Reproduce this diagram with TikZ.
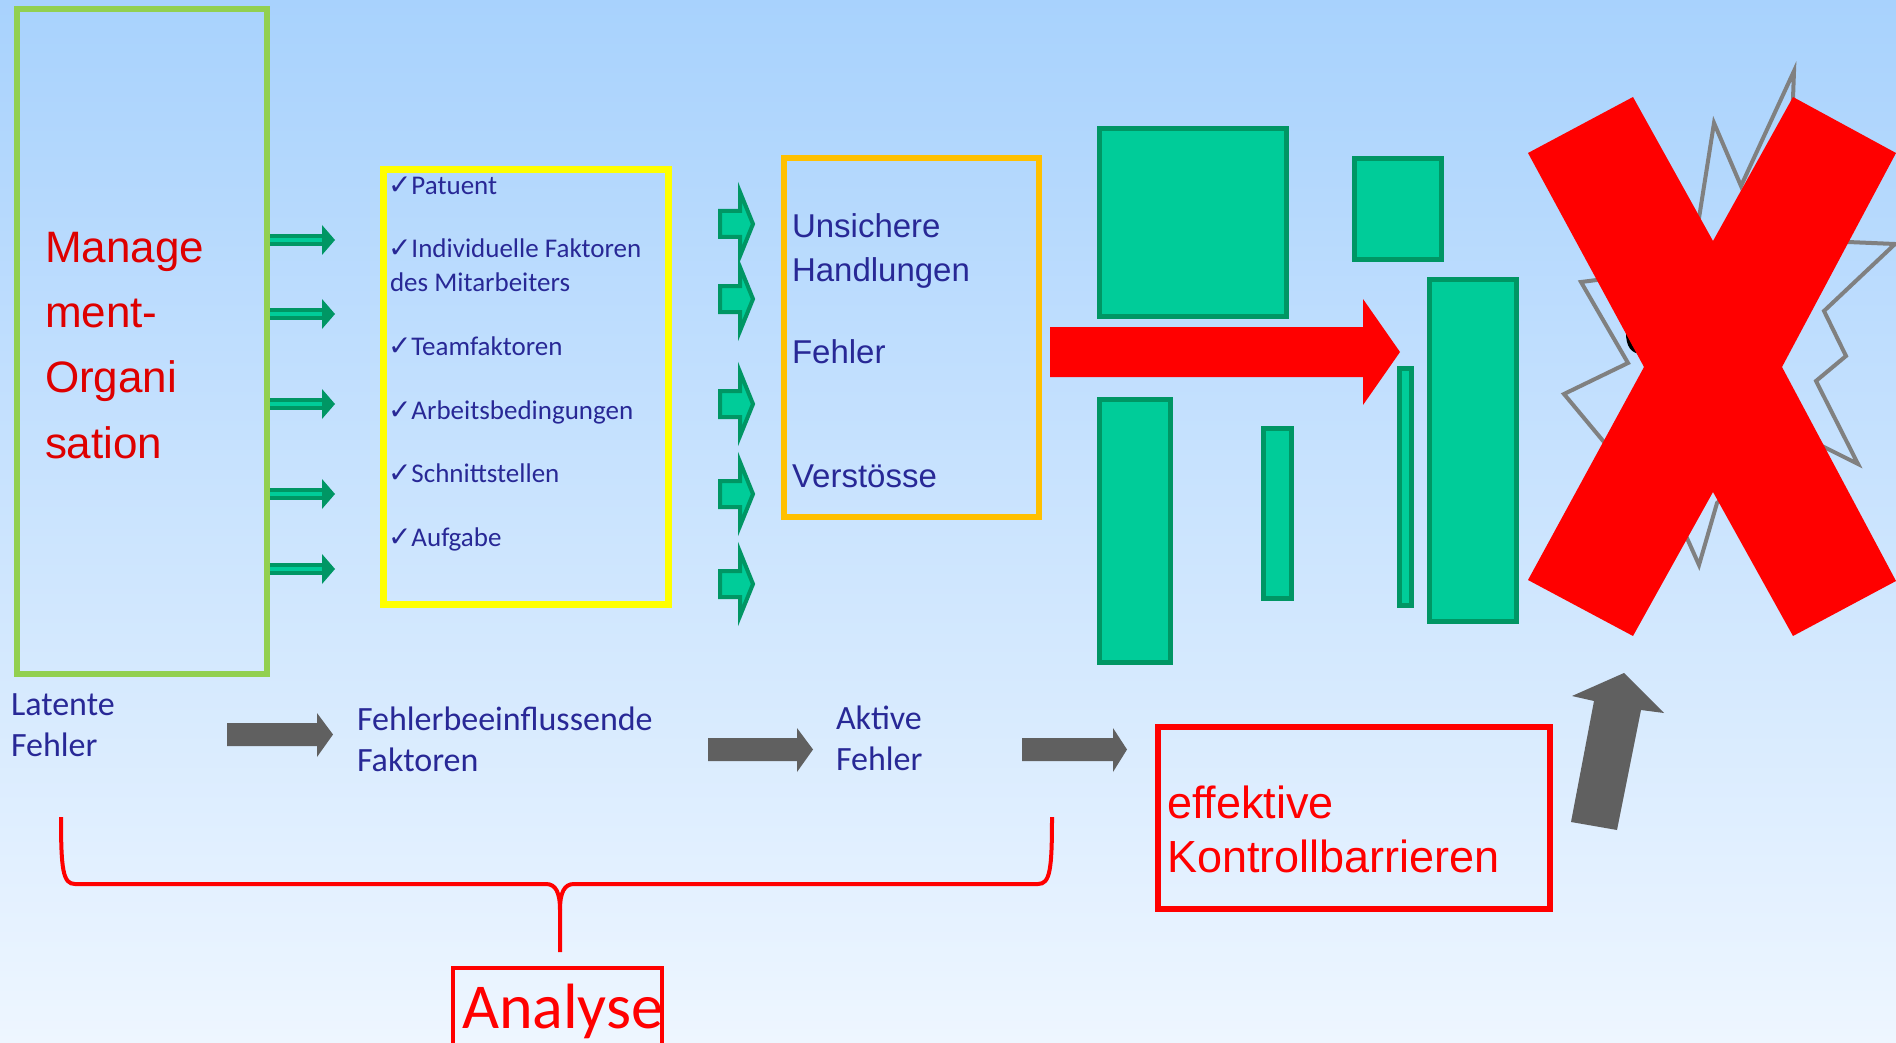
\documentclass[tikz,border=0pt]{standalone}
\usepackage{fontspec}
\setmainfont{Liberation Sans}
\newfontfamily\calfont{Carlito}
\newfontfamily\dvfont{DejaVu Sans}
\definecolor{bgtop}{RGB}{168,210,253}
\definecolor{bgbot}{RGB}{238,246,255}
\definecolor{mgreen}{RGB}{146,208,80}
\definecolor{yel}{RGB}{255,255,0}
\definecolor{orng}{RGB}{255,192,0}
\definecolor{tealc}{RGB}{0,204,153}
\definecolor{dteal}{RGB}{0,150,100}
\definecolor{dblue}{RGB}{40,40,150}
\definecolor{mgred}{RGB}{222,0,0}
\definecolor{xred}{RGB}{255,0,0}
\definecolor{grayarr}{RGB}{96,96,96}
\definecolor{starg}{RGB}{128,128,128}
\newcommand{\myck}{{\dvfont\fontsize{28}{28}\selectfont ✓}}
\begin{document}
\begin{tikzpicture}[x=1pt,y=-1pt,
 txt/.style={inner sep=0pt, outer sep=0pt, anchor=base west},
 mgtxt/.style={txt, text=mgred, font=\fontsize{44}{44}\selectfont},
 cktxt/.style={txt, text=dblue, font=\calfont\fontsize{27}{27}\selectfont},
 ortxt/.style={txt, text=dblue, font=\fontsize{33}{33}\selectfont},
 bttxt/.style={txt, text=dblue, font=\calfont\fontsize{34}{34}\selectfont},
 rdtxt/.style={txt, text=xred, font=\fontsize{45}{45}\selectfont},
 frame/.style={inner sep=0pt, outer sep=0pt, anchor=north west},
 bar/.style={frame, fill=tealc, draw=dteal, line width=5pt},
 garrow/.style={fill=grayarr},
]
\useasboundingbox (0,0) rectangle (1896,1043);
\clip (0,0) rectangle (1896,1043);
\shade[top color=bgtop, bottom color=bgbot] (0,0) rectangle (1896,1043);

% frames
\node[frame, draw=mgreen, line width=6pt, minimum width=250pt, minimum height=664.5pt] (mgmt) at (17,9.5) {};
\node[frame, draw=yel, line width=7pt, minimum width=285pt, minimum height=434pt] (factors) at (383,170) {};
\node[frame, draw=orng, line width=6pt, minimum width=255pt, minimum height=359pt] (unsafe) at (784,158) {};
\node[frame, draw=xred, line width=6pt, minimum width=392pt, minimum height=182pt] (barrier) at (1158,727) {};
\node[frame, draw=xred, line width=4.5pt, minimum width=209pt, minimum height=100pt] (analyse) at (453,968) {};

% management text
\node[mgtxt] (m1) at (45,262) {Manage};
\node[mgtxt] (m2) at (45,327) {ment-};
\node[mgtxt] (m3) at (45,392) {Organi};
\node[mgtxt] (m4) at (45,458) {sation};

% thin green arrows
\foreach \y in {240,314,404,494,569}{
  \fill[dteal] (270,\y-6) rectangle (326,\y+6);
  \fill[tealc] (270,\y-2) rectangle (323,\y+2);
  \fill[dteal] (322,\y-15) -- (335,\y) -- (322,\y+15) -- cycle;
}

% checklist
\node[cktxt] (c1) at (388,195) {\myck Patuent};
\node[cktxt] (c2) at (388,258) {\myck Individuelle Faktoren};
\node[cktxt] (c2b) at (390,291) {des Mitarbeiters};
\node[cktxt] (c3) at (388,355) {\myck Teamfaktoren};
\node[cktxt] (c4) at (388,419) {\myck Arbeitsbedingungen};
\node[cktxt] (c5) at (388,482) {\myck Schnittstellen};
\node[cktxt] (c6) at (388,546) {\myck Aufgabe};

% fat teal arrows
\foreach \y in {224,299,404,494,584}{
  \filldraw[fill=tealc, draw=dteal, line width=4pt] (720,\y-13) -- (740,\y-13) -- (740,\y-32) -- (753,\y) -- (740,\y+32) -- (740,\y+13) -- (720,\y+13) -- cycle;
}

% orange box text
\node[ortxt] (o1) at (792,238) {Unsichere};
\node[ortxt] (o2) at (792,281) {Handlungen};
\node[ortxt] (o3) at (792,363) {Fehler};
\node[ortxt] (o4) at (792,487) {Verstösse};

% teal barriers
\node[bar, minimum width=187pt, minimum height=188pt] (r1) at (1099.5,128.5) {};
\node[bar, minimum width=87pt, minimum height=101pt] (r2) at (1354.5,158.5) {};
\node[bar, minimum width=71pt, minimum height=263pt] (r3) at (1099.5,399.5) {};
\node[bar, minimum width=28pt, minimum height=170pt] (r4) at (1263.5,428.5) {};
\node[bar, minimum width=12pt, minimum height=237pt] (r5) at (1399.5,368.5) {};
\node[bar, minimum width=87pt, minimum height=342pt] (r6) at (1429.5,279.5) {};

% red arrow
\fill[xred] (1050,327) -- (1363,327) -- (1363,299) -- (1400,352) -- (1363,405) -- (1363,377) -- (1050,377) -- cycle;

% starburst
\draw[starg, line width=4pt, line join=miter]
 (1794,71) -- (1741,186) -- (1714,123) -- (1699,218) -- (1660,272) -- (1581,282)
 -- (1628,363) -- (1564,394) -- (1604,442) -- (1670,500) -- (1699,565) -- (1717,503)
 -- (1800,435) -- (1858,464) -- (1816,381) -- (1846,356) -- (1824,311) -- (1895,244)
 -- (1848,242) -- (1790,180) -- cycle;
\draw[black, line width=4pt, line cap=round] (1628,333) .. controls (1628,346) and (1633,352) .. (1642,352);

% big X
\fill[xred] (1528,153) -- (1633,97) -- (1713,241) -- (1793,97) -- (1896,153) -- (1782,367)
 -- (1896,581) -- (1793,636) -- (1713,492) -- (1633,636) -- (1528,580) -- (1644,367) -- cycle;

% bottom row
\node[bttxt] (b1) at (11,715) {Latente};
\node[bttxt] (b2) at (11,756) {Fehler};
\node[bttxt] (b3) at (357,730) {Fehlerbeeinflussende};
\node[bttxt] (b4) at (357,771) {Faktoren};
\node[bttxt] (b5) at (836,729) {Aktive};
\node[bttxt] (b6) at (836,770) {Fehler};

\fill[garrow] (227,723) -- (317,723) -- (317,713) -- (333,734.5) -- (317,757) -- (317,746) -- (227,746) -- cycle;
\fill[garrow] (708,738) -- (797,738) -- (797,728) -- (813,749.5) -- (797,772) -- (797,761) -- (708,761) -- cycle;
\fill[garrow] (1022,738) -- (1113,738) -- (1113,728) -- (1127,749.5) -- (1113,772) -- (1113,761) -- (1022,761) -- cycle;

% up arrow
\fill[garrow] (1571,822) -- (1594,701) -- (1572,696) -- (1624,673) -- (1664,713) -- (1641,710) -- (1617,830) -- cycle;

% barrier text
\node[rdtxt] (k1) at (1167,818) {effektive};
\node[rdtxt] (k2) at (1167,872) {Kontrollbarrieren};

% brace
\draw[xred, line width=4pt]
 (61,817) .. controls (61,870) and (63,884) .. (75,884) -- (546,884)
 .. controls (556,884) and (560,893) .. (560,910) -- (560,952);
\draw[xred, line width=4pt]
 (1052,817) .. controls (1052,870) and (1050,884) .. (1038,884) -- (574,884)
 .. controls (564,884) and (560,893) .. (560,910);

\node[txt, text=xred, font=\calfont\fontsize{64}{64}\selectfont] (an) at (462,1028) {Analyse};
\end{tikzpicture}
\end{document}
